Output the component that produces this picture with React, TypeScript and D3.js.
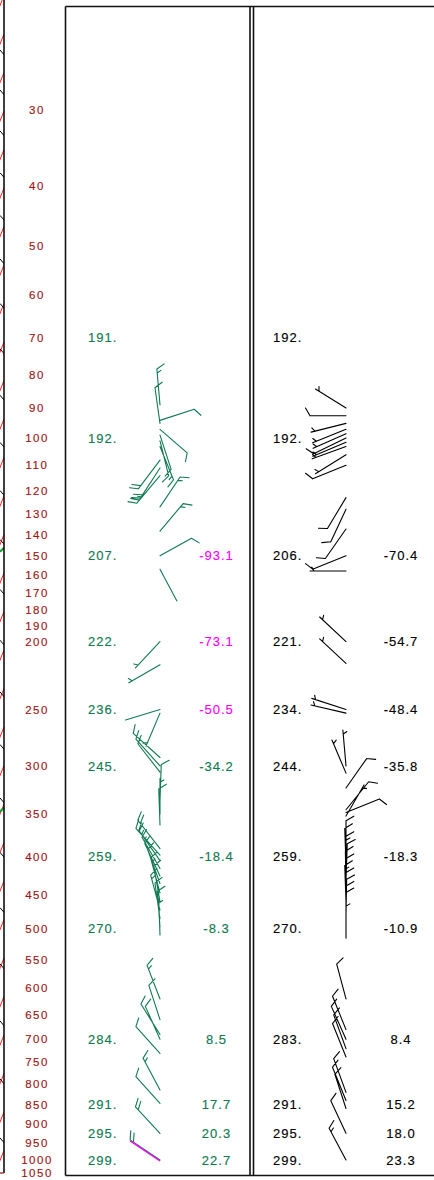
import React from 'react';
import * as d3 from 'd3';

const W = 434;
const H = 1180;

// pressure axis tick labels (hPa)
const pressureTicks = [30, 40, 50, 60, 70, 80, 90, 100, 110, 120, 130, 140, 150, 160, 170, 180, 190, 200, 250, 300, 350, 400, 450, 500, 550, 600, 650, 700, 750, 800, 850, 900, 950, 1000, 1050];

// left panel (green) potential temperature labels
const thetaLeftP = [70, 100, 150, 200, 250, 300, 400, 500, 700, 850, 925, 1000];
const thetaLeftV = ['191.', '192.', '207.', '222.', '236.', '245.', '259.', '270.', '284.', '291.', '295.', '299.'];
// left panel temperatures
const tempLeftP = [150, 200, 250, 300, 400, 500, 700, 850, 925, 1000];
const tempLeftV = ['-93.1', '-73.1', '-50.5', '-34.2', '-18.4', '-8.3', '8.5', '17.7', '20.3', '22.7'];
const tempLeftFlag = [true, true, true, false, false, false, false, false, false, false];

// right panel (black)
const thetaRightP = [70, 100, 150, 200, 250, 300, 400, 500, 700, 850, 925, 1000];
const thetaRightV = ['192.', '192.', '206.', '221.', '234.', '244.', '259.', '270.', '283.', '291.', '295.', '299.'];
const tempRightP = [150, 200, 250, 300, 400, 500, 700, 850, 925, 1000];
const tempRightV = ['-70.4', '-54.7', '-48.4', '-35.8', '-18.3', '-10.9', '8.4', '15.2', '18.0', '23.3'];

// winds: [pressure hPa, direction deg, speed kt]
const windLeft: [number, number, number][] = [
  [89, 355, 15], [95, 352, 10], [94, 72, 10], [97, 131, 10], [99, 162, 10], [101, 166, 10], [103, 158, 15],
  [108, 217, 20], [111, 213, 20], [114, 220, 25], [127, 34, 15], [138, 40, 15], [150, 61, 10], [157, 152, 0],
  [200, 223, 5], [216, 240, 5], [250, 253, 0], [253, 203, 5], [292, 312, 10], [300, 318, 15], [306, 322, 10],
  [335, 2, 10], [350, 0, 5], [362, 358, 10], [390, 322, 20], [398, 318, 20], [405, 325, 15], [415, 330, 15],
  [425, 335, 10], [435, 340, 10], [448, 345, 15], [460, 350, 10], [472, 345, 15], [485, 352, 10], [498, 356, 10],
  [510, 358, 5], [620, 339, 15], [660, 342, 10], [690, 328, 10], [700, 336, 10], [730, 318, 10], [814, 332, 15],
  [847, 318, 10], [925, 317, 20], [1000, 304, 20],
];
const windLeftAlt: [number, number, number][] = [[1000, 304, 0]];

const windRight: [number, number, number][] = [
  [90, 302, 5], [92.5, 270, 10], [95, 256, 5], [97, 248, 5], [98.5, 246, 5], [100, 244, 10], [101.5, 247, 5],
  [103, 250, 5], [106, 238, 5], [110, 248, 10], [123, 211, 10], [128, 205, 10], [137, 215, 10], [150, 248, 10],
  [158, 270, 5], [200, 313, 5], [215, 313, 5], [250, 288, 5], [253, 283, 5], [300, 355, 5], [307, 337, 5],
  [322, 35, 10], [345, 39, 10], [348, 68, 10], [352, 30, 5], [400, 0, 10], [410, 358, 10], [420, 0, 15],
  [430, 2, 10], [440, 359, 10], [450, 0, 10], [460, 358, 15], [470, 0, 10], [480, 1, 10], [490, 0, 10],
  [500, 0, 10], [515, 0, 5], [620, 345, 10], [680, 338, 10], [700, 336, 10], [720, 340, 10], [738, 338, 10],
  [820, 340, 10], [840, 338, 10], [860, 342, 10], [925, 335, 10], [1000, 332, 15],
];

// sounding crossings visible on the cut-off skew-T edge
const soundingEdgeP = [147, 345];

const GREEN = '#107a52';
const MAGENTA = '#ff00ff';
const DARKRED = '#a01414';
const FONT = '"Liberation Sans", Arial, Helvetica, sans-serif';

const y = d3.scalePow().exponent(0.08).domain([100, 1000]).range([438, 1160]);

function barbPath(x0: number, y0: number, dir: number, spd: number): string {
  const L = 36, full = 9, half = 4.5, gap = 4;
  const r = (dir * Math.PI) / 180;
  const sx = Math.sin(r), sy = -Math.cos(r);
  const tr = ((dir + 60) * Math.PI) / 180;
  const tx = Math.sin(tr), ty = -Math.cos(tr);
  const p = d3.path();
  const x1 = x0 + L * sx, y1 = y0 + L * sy;
  p.moveTo(x0, y0);
  p.lineTo(x1, y1);
  let s = Math.round(spd / 5) * 5;
  let pos = 0;
  while (s >= 50) {
    const ax = x1 - pos * sx, ay = y1 - pos * sy;
    const bx = x1 - (pos + gap * 1.5) * sx, by = y1 - (pos + gap * 1.5) * sy;
    p.moveTo(ax, ay); p.lineTo(ax + full * tx, ay + full * ty); p.lineTo(bx, by);
    s -= 50; pos += gap * 2;
  }
  while (s >= 10) {
    const ax = x1 - pos * sx, ay = y1 - pos * sy;
    p.moveTo(ax, ay); p.lineTo(ax + full * tx, ay + full * ty);
    s -= 10; pos += gap;
  }
  if (s >= 5) {
    if (pos === 0) pos = gap;
    const ax = x1 - pos * sx, ay = y1 - pos * sy;
    p.moveTo(ax, ay); p.lineTo(ax + half * tx, ay + half * ty);
  }
  return p.toString();
}

// skew-T background lines crossing the visible 4px edge strip
const isothermY = d3.range(-1, 31).map((k) => 34 + 38.5 * k);
const adiabatY = d3.range(0, 23).map((i) => 50 + 40 * i + 0.45 * i * (i - 1));

export default function App() {
  const leftX = 65.5;
  const midX1 = 250;
  const midX2 = 253.5;
  const topY = 6.5;
  const botY = 1175.5;
  const baseL = 160;
  const baseR = 346;
  const textStyle = (c: string, size = 13, ls = 1): React.CSSProperties => ({
    fontFamily: FONT,
    fontSize: size,
    letterSpacing: ls,
    fill: c,
    stroke: c,
    strokeWidth: 0.15,
  });
  const base = (p: number) => y(p) + 4.6;
  const pBase = (p: number) => Math.min(y(p) + 4.1, 1177.4);

  return (
    <svg width={W} height={H} style={{ position: 'absolute', left: 0, top: 0, background: '#fff' }}>
      <defs>
        <clipPath id="edge">
          <rect x={0} y={0} width={4} height={1173} />
        </clipPath>
      </defs>
      <rect x={0} y={0} width={W} height={H} fill="#fff" />

      {/* cut-off skew-T strip */}
      <g clipPath="url(#edge)">
        {isothermY.map((yy, i) => (
          <line key={'iso' + i} x1={-2} y1={yy + 15} x2={4} y2={yy} stroke="#ff2020" strokeWidth={1} />
        ))}
        {adiabatY.map((yy, i) => (
          <line key={'ad' + i} x1={0} y1={yy} x2={6} y2={yy + 7} stroke="#000" strokeWidth={1} />
        ))}
        {soundingEdgeP.map((p, i) => (
          <line key={'snd' + i} x1={0} y1={y(p) + 2} x2={4} y2={y(p) - 2} stroke="#10a030" strokeWidth={2} />
        ))}
      </g>
      <line x1={4} y1={0} x2={4} y2={1173} stroke="#000" strokeWidth={1.5} />
      <line x1={0} y1={1173} x2={4} y2={1173} stroke="#8b1a1a" strokeWidth={1.2} />

      {/* pressure labels */}
      {pressureTicks.map((p) => (
        <text key={'pt' + p} x={37} y={pBase(p)} textAnchor="middle" style={textStyle(DARKRED, 11.5, 1.5)}>
          {p}
        </text>
      ))}

      {/* frames */}
      <line x1={leftX} y1={topY} x2={W} y2={topY} stroke="#111" strokeWidth={1.6} />
      <line x1={leftX} y1={botY} x2={W} y2={botY} stroke="#111" strokeWidth={1.6} />
      <line x1={leftX} y1={topY} x2={leftX} y2={botY} stroke="#111" strokeWidth={1.6} />
      <line x1={midX1} y1={topY} x2={midX1} y2={botY} stroke="#111" strokeWidth={1.6} />
      <line x1={midX2} y1={topY} x2={midX2} y2={botY} stroke="#111" strokeWidth={1.6} />

      {/* left panel */}
      {thetaLeftP.map((p, i) => (
        <text key={'tl' + i} x={88} y={base(p)} style={textStyle(GREEN)}>{thetaLeftV[i]}</text>
      ))}
      {tempLeftP.map((p, i) => (
        <text key={'vl' + i} x={216.5} y={base(p)} textAnchor="middle" style={textStyle(tempLeftFlag[i] ? MAGENTA : GREEN)}>
          {tempLeftV[i]}
        </text>
      ))}
      <path
        d={windLeft.map(([p, d, s]) => barbPath(baseL, y(p), d, s)).join('')}
        fill="none"
        stroke={GREEN}
        strokeWidth={1.1}
        strokeLinecap="round"
      />
      <path
        d={windLeftAlt.map(([p, d, s]) => barbPath(baseL, y(p) + 1, d, s)).join('')}
        fill="none"
        stroke={MAGENTA}
        strokeWidth={1.3}
      />

      {/* right panel */}
      {thetaRightP.map((p, i) => (
        <text key={'tr' + i} x={273} y={base(p)} style={textStyle('#000')}>{thetaRightV[i]}</text>
      ))}
      {tempRightP.map((p, i) => (
        <text key={'vr' + i} x={401} y={base(p)} textAnchor="middle" style={textStyle('#000')}>
          {tempRightV[i]}
        </text>
      ))}
      <path
        d={windRight.map(([p, d, s]) => barbPath(baseR, y(p), d, s)).join('')}
        fill="none"
        stroke="#000"
        strokeWidth={1.1}
        strokeLinecap="round"
      />
    </svg>
  );
}
